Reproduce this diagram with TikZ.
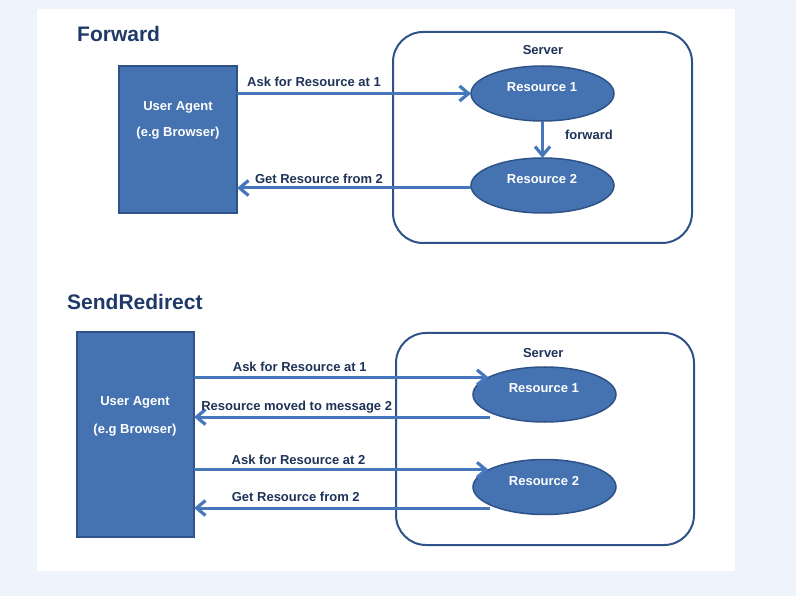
\documentclass[tikz,border=0pt]{standalone}
\usepackage{fontspec}
\setmainfont{Liberation Sans}
\usetikzlibrary{arrows.meta,shapes.geometric,calc}
\definecolor{bgc}{HTML}{EEF3FC}
\definecolor{boxfill}{HTML}{4573B1}
\definecolor{boxline}{HTML}{2F5288}
\definecolor{srvline}{HTML}{2F5288}
\definecolor{arrc}{HTML}{4677BD}
\definecolor{titlec}{HTML}{1F3A68}
\definecolor{labc}{HTML}{1F3358}
\begin{document}
\begin{tikzpicture}[x=1pt,y=-1pt,
  uabox/.style={draw=boxline, fill=boxfill, line width=1.5pt, inner sep=0pt, outer sep=0pt},
  srvbox/.style={draw=srvline, line width=2pt, rounded corners=30pt, inner sep=0pt, outer sep=0pt},
  resell/.style={ellipse, draw=boxline, fill=boxfill, line width=1.5pt, minimum width=143pt, minimum height=55pt, inner sep=0pt, outer sep=0pt},
  arr/.style={draw=arrc, line width=3pt, -{Straight Barb[length=9pt,width=15pt,line width=3.2pt]}},
  ttl/.style={font=\bfseries\fontsize{21}{25}\selectfont, text=titlec, inner sep=0pt, anchor=base west},
  lab/.style={font=\bfseries\fontsize{13}{15}\selectfont, text=labc, inner sep=0pt, anchor=base},
  wlab/.style={font=\bfseries\fontsize{13}{15}\selectfont, text=white, inner sep=0pt, anchor=base}
]
\useasboundingbox (0,0) rectangle (796,596);
\fill[bgc] (0,0) rectangle (796,596);
\fill[white] (37,9) rectangle (735,571);

% ---------------- Forward ----------------
\node[ttl] (t1) at (77,42) {Forward};
\node[uabox, minimum width=118pt, minimum height=147pt] (ua1) at (178,139.5) {};
\node[wlab] (ua1a) at (178,110.5) {User Agent};
\node[wlab] (ua1b) at (178,137) {(e.g Browser)};
\node[srvbox, minimum width=299pt, minimum height=211pt] (s1) at (542.5,137.5) {};
\node[lab] (s1t) at (543,55) {Server};

\node[resell] (r1) at (542.5,93.5) {};
\node[resell] (r2) at (542.5,185.5) {};

\coordinate (g1s) at (471,188);
\draw[arr] (ua1.east |- r1.west) -- (r1.west);
\draw[arr] (g1s) -- (ua1.east |- g1s);

\node[wlab] (r1t) at (542,91.5) {Resource 1};
\node[wlab] (r2t) at (542,184) {Resource 2};
\draw[arr] (r1.south) -- (r2.north);
\node[lab] (fw) at (589,140) {forward};

\node[lab] (l1) at (314,87) {Ask for Resource at 1};
\node[lab] (l2) at (319,183.5) {Get Resource from 2};

% ---------------- SendRedirect ----------------
\node[ttl] (t2) at (67,310) {SendRedirect};
\node[uabox, minimum width=117pt, minimum height=205pt] (ua2) at (135.5,434.5) {};
\node[wlab] (ua2a) at (135,406) {User Agent};
\node[wlab] (ua2b) at (135,433) {(e.g Browser)};
\node[srvbox, minimum width=298pt, minimum height=212pt] (s2) at (545,439) {};
\node[lab] (s2t) at (543.3,357.3) {Server};

\node[resell] (q1) at (544.5,394.5) {};
\node[resell] (q2) at (544.5,487) {};

\coordinate (m2s) at (490,417);
\coordinate (g2s) at (490,508);
\draw[arr] (ua2.east |- q1.163) -- (q1.163);
\draw[arr] (m2s) -- (ua2.east |- m2s);
\draw[arr] (ua2.east |- q2.163) -- (q2.163);
\draw[arr] (g2s) -- (ua2.east |- g2s);

\node[wlab] (q1t) at (543.8,392.7) {Resource 1};
\node[wlab] (q2t) at (544,485) {Resource 2};

\node[lab] (k1) at (299.7,371.5) {Ask for Resource at 1};
\node[lab] (k2) at (296.7,410.7) {Resource moved to message 2};
\node[lab] (k3) at (298.5,464) {Ask for Resource at 2};
\node[lab] (k4) at (295.8,501.7) {Get Resource from 2};
\end{tikzpicture}
\end{document}
